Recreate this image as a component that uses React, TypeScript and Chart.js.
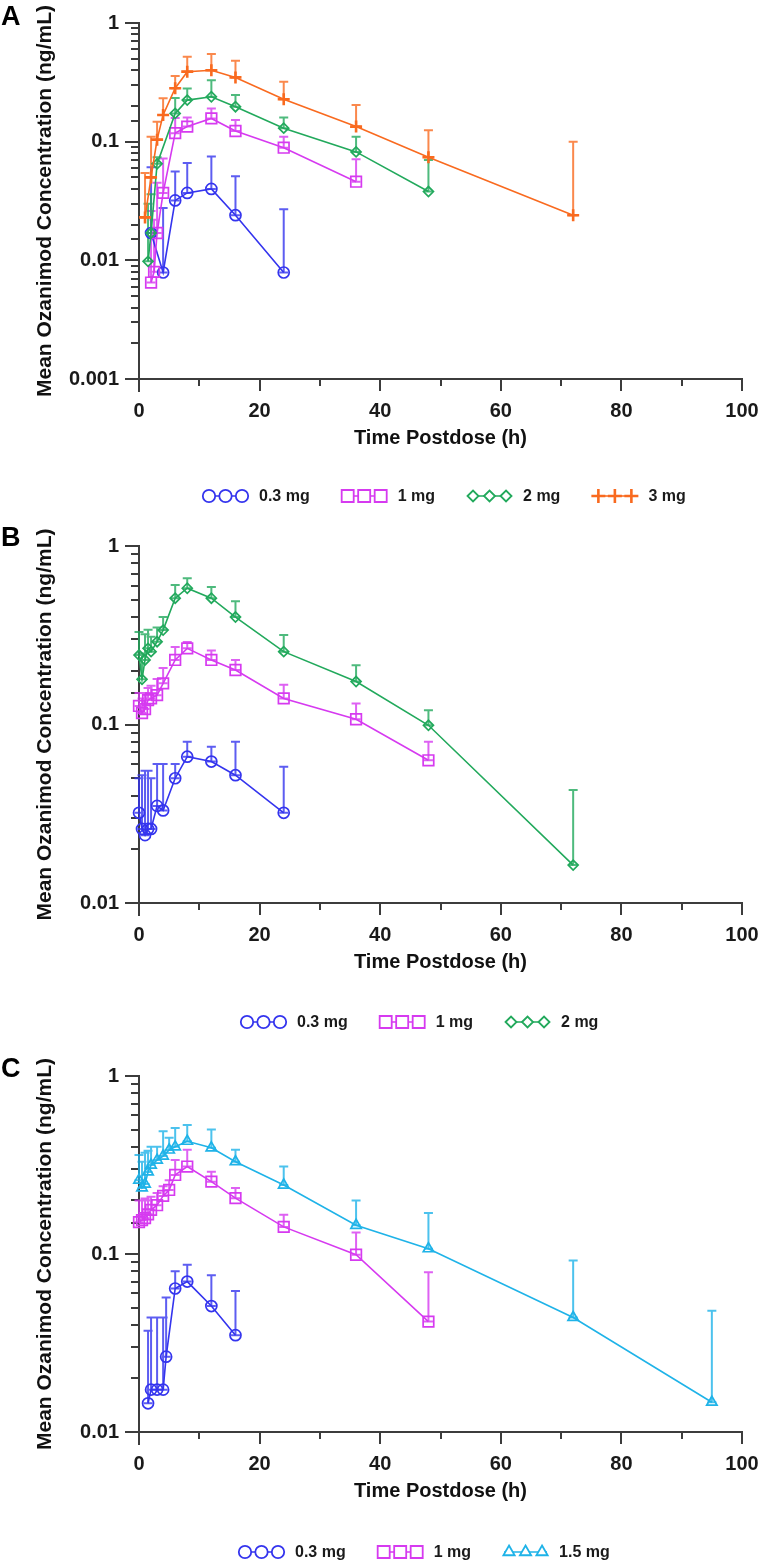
import React, { useEffect, useRef } from 'react';
import { Chart, registerables } from 'chart.js';
import { drawPoint } from 'chart.js/helpers';

Chart.register(...registerables);

const FONT = '"Liberation Sans", Arial, Helvetica, sans-serif';

// ---------------- labels & colours ----------------
const Y_TITLE = 'Mean Ozanimod Concentration (ng/mL)';
const X_TITLE = 'Time Postdose (h)';
const X_TICKS = [0, 20, 40, 60, 80, 100];

const BLUE = '#3434ee';
const MAGENTA = '#d63af0';
const GREEN = '#22a95c';
const ORANGE = '#f96a1f';
const CYAN = '#1fb3e8';

// ---------------- Panel A (single dose) ----------------
const A_T_03 = [2, 4, 6, 8, 12, 16, 24];
const A_M_03 = [0.017, 0.0079, 0.032, 0.037, 0.04, 0.024, 0.0079];
const A_U_03 = [0.061, 0.0276, 0.056, 0.066, 0.075, 0.051, 0.027];

const A_T_1 = [2, 2.5, 3, 4, 6, 8, 12, 16, 24, 36];
const A_M_1 = [0.0065, 0.008, 0.017, 0.037, 0.118, 0.134, 0.157, 0.123, 0.089, 0.046];
const A_U_1 = [0.026, 0.022, 0.045, 0.072, 0.158, 0.16, 0.19, 0.152, 0.11, 0.071];

const A_T_2 = [1.5, 2, 3, 6, 8, 12, 16, 24, 36, 48];
const A_M_2 = [0.0098, 0.017, 0.065, 0.173, 0.224, 0.239, 0.197, 0.13, 0.082, 0.038];
const A_U_2 = [0.03, 0.036, 0.074, 0.233, 0.28, 0.33, 0.247, 0.16, 0.11, 0.07];

const A_T_3 = [1, 2, 3, 4, 6, 8, 12, 16, 24, 36, 48, 72];
const A_M_3 = [0.023, 0.05, 0.104, 0.168, 0.282, 0.389, 0.4, 0.348, 0.228, 0.134, 0.074, 0.024];
const A_U_3 = [0.0545, 0.11, 0.147, 0.232, 0.358, 0.52, 0.548, 0.481, 0.32, 0.204, 0.125, 0.1];

// ---------------- Panel B ----------------
const B_T_03 = [0, 0.5, 1, 1.5, 2, 3, 4, 6, 8, 12, 16, 24];
const B_M_03 = [0.032, 0.026, 0.024, 0.026, 0.026, 0.035, 0.033, 0.05, 0.066, 0.062, 0.052, 0.032];
const B_U_03 = [0.05, 0.052, 0.055, 0.055, 0.05, 0.06, 0.06, 0.06, 0.08, 0.075, 0.08, 0.058];

const B_T_1 = [0, 0.5, 1, 1.5, 2, 3, 4, 6, 8, 12, 16, 24, 36, 48];
const B_M_1 = [0.127, 0.116, 0.122, 0.137, 0.14, 0.146, 0.17, 0.23, 0.267, 0.23, 0.202, 0.14, 0.107, 0.063];
const B_U_1 = [0.15, 0.14, 0.15, 0.16, 0.165, 0.18, 0.207, 0.272, 0.29, 0.26, 0.23, 0.167, 0.131, 0.08];

const B_T_2 = [0, 0.5, 1, 1.5, 2, 3, 4, 6, 8, 12, 16, 24, 36, 48, 72];
const B_M_2 = [0.245, 0.179, 0.23, 0.267, 0.256, 0.291, 0.338, 0.51, 0.58, 0.51, 0.4, 0.256, 0.174, 0.099, 0.0163];
const B_U_2 = [0.33, 0.25, 0.32, 0.34, 0.31, 0.35, 0.4, 0.605, 0.66, 0.59, 0.49, 0.317, 0.215, 0.12, 0.043];

// ---------------- Panel C ----------------
const C_T_03 = [1.5, 2, 3, 4, 4.5, 6, 8, 12, 16];
const C_M_03 = [0.0145, 0.0173, 0.0173, 0.0173, 0.0265, 0.064, 0.07, 0.051, 0.035];
const C_U_03 = [0.037, 0.044, 0.044, 0.044, 0.057, 0.08, 0.087, 0.076, 0.062];

const C_T_1 = [0, 0.5, 1, 1.5, 2, 3, 4, 5, 6, 8, 12, 16, 24, 36, 48];
const C_M_1 = [0.151, 0.155, 0.159, 0.167, 0.177, 0.188, 0.212, 0.229, 0.278, 0.31, 0.255, 0.206, 0.142, 0.099, 0.0417];
const C_U_1 = [0.2, 0.2, 0.205, 0.2, 0.21, 0.22, 0.24, 0.26, 0.337, 0.385, 0.29, 0.235, 0.166, 0.132, 0.079];

const C_T_15 = [0, 0.5, 1, 1.5, 2, 3, 4, 5, 6, 8, 12, 16, 24, 36, 48, 72, 95];
const C_M_15 = [0.26, 0.235, 0.247, 0.289, 0.316, 0.337, 0.355, 0.384, 0.4, 0.43, 0.395, 0.33, 0.244, 0.145, 0.107, 0.044, 0.0147];
const C_U_15 = [0.36, 0.33, 0.37, 0.38, 0.4, 0.4, 0.49, 0.45, 0.51, 0.53, 0.5, 0.385, 0.31, 0.2, 0.17, 0.092, 0.048];

// ---------------- helpers ----------------
type Series = {
  label: string;
  color: string;
  style: string;
  radius: number;
  legendRadius: number;
  t: number[];
  m: number[];
  u: number[];
};

function withAlpha(hex: string, a: number) {
  const n = parseInt(hex.slice(1), 16);
  return `rgba(${(n >> 16) & 255},${(n >> 8) & 255},${n & 255},${a})`;
}

function makeDataset(s: Series, i: number, n: number) {
  return {
    label: s.label,
    data: s.t.map((x, k) => ({ x, y: s.m[k] })),
    borderColor: s.color,
    backgroundColor: 'rgba(0,0,0,0)',
    pointBackgroundColor: 'rgba(255,255,255,0)',
    pointBorderColor: s.color,
    pointStyle: s.style,
    pointRadius: s.radius,
    pointBorderWidth: s.style === 'cross' ? 2.6 : 1.7,
    borderWidth: 1.6,
    tension: 0,
    clip: false,
    order: n - i,
    errUpper: s.u,
    legendRadius: s.legendRadius,
  } as any;
}

const decorPlugin = {
  id: 'decor',
  beforeDatasetsDraw(chart: any) {
    const { ctx, chartArea } = chart;
    const xs = chart.scales.x;
    const ys = chart.scales.y;
    const { left, right, top, bottom } = chartArea;
    ctx.save();
    // axes
    ctx.strokeStyle = '#3c3c3c';
    ctx.lineWidth = 2;
    ctx.beginPath();
    ctx.moveTo(left, top - 1);
    ctx.lineTo(left, bottom + 13);
    ctx.moveTo(left - 14, bottom);
    ctx.lineTo(right + 1, bottom);
    // y ticks (decades long, 2..9 short)
    ys.ticks.forEach((tk: any) => {
      const v = tk.value;
      const lg = Math.log10(v);
      const major = Math.abs(lg - Math.round(lg)) < 1e-6;
      const py = Math.round(ys.getPixelForValue(v));
      ctx.moveTo(left - (major ? 14 : 8), py);
      ctx.lineTo(left, py);
    });
    // x ticks
    xs.ticks.forEach((tk: any) => {
      const v = tk.value;
      const major = v % 20 === 0;
      const px = Math.round(xs.getPixelForValue(v));
      ctx.moveTo(px, bottom);
      ctx.lineTo(px, bottom + (major ? 12 : 7));
    });
    ctx.stroke();

    // error bars (mean + SD), with a cap at the top and one at the mean
    chart.data.datasets.forEach((ds: any) => {
      const up: number[] = ds.errUpper || [];
      ctx.strokeStyle = withAlpha(ds.borderColor, 0.8);
      ctx.lineWidth = 2;
      ctx.beginPath();
      ds.data.forEach((p: any, k: number) => {
        const px = xs.getPixelForValue(p.x);
        const y0 = ys.getPixelForValue(p.y);
        const y1 = ys.getPixelForValue(up[k]);
        ctx.moveTo(px, y0);
        ctx.lineTo(px, y1);
        ctx.moveTo(px - 4.5, y1);
        ctx.lineTo(px + 4.5, y1);
        ctx.moveTo(px - 4.5, y0);
        ctx.lineTo(px + 4.5, y0);
      });
      ctx.stroke();
    });
    ctx.restore();
  },
  afterDraw(chart: any, _args: any, opts: any) {
    const { ctx } = chart;
    ctx.save();
    // panel letter
    ctx.fillStyle = '#000';
    ctx.font = `bold 27px ${FONT}`;
    ctx.textAlign = 'left';
    ctx.textBaseline = 'alphabetic';
    ctx.fillText(opts.letter, 1, opts.letterY);

    // legend
    let x = opts.legendX;
    const y = opts.legendY;
    ctx.font = `bold 16px ${FONT}`;
    ctx.textBaseline = 'middle';
    chart.data.datasets.forEach((ds: any) => {
      const symW = 47;
      const r = ds.legendRadius;
      ctx.strokeStyle = ds.borderColor;
      ctx.lineWidth = 1.5;
      ctx.beginPath();
      ctx.moveTo(x + 2, y);
      ctx.lineTo(x + symW - 2, y);
      ctx.stroke();
      const pts = [x + symW / 2 - 16.5, x + symW / 2, x + symW / 2 + 16.5];
      ctx.fillStyle = '#ffffff';
      ctx.lineWidth = ds.pointStyle === 'cross' ? 2.6 : 1.8;
      pts.forEach((px) => {
        drawPoint(ctx, { pointStyle: ds.pointStyle, rotation: 0, radius: r, borderWidth: ctx.lineWidth } as any, px, y);
      });
      ctx.fillStyle = '#1a1a1a';
      const tx = x + symW + 10;
      ctx.fillText(ds.label, tx, y + 1);
      x = tx + ctx.measureText(ds.label).width + 31;
    });
    ctx.restore();
  },
};

function yTickLabel(value: any) {
  const v = Number(value);
  const lg = Math.log10(v);
  if (Math.abs(lg - Math.round(lg)) < 1e-6) {
    return String(Number(v.toPrecision(1)));
  }
  return '';
}

type PanelProps = {
  top: number;
  height: number;
  padTop: number;
  padBottom: number;
  yMin: number;
  series: Series[];
  letter: string;
  letterY: number;
  legendX: number;
  legendY: number;
};

function Panel(p: PanelProps) {
  const ref = useRef<HTMLCanvasElement | null>(null);
  useEffect(() => {
    if (!ref.current) return;
    const n = p.series.length;
    const chart = new Chart(ref.current, {
      type: 'line',
      data: { datasets: p.series.map((s, i) => makeDataset(s, i, n)) },
      options: {
        responsive: false,
        animation: false,
        devicePixelRatio: 1,
        events: [],
        layout: { padding: { top: p.padTop, bottom: p.padBottom, left: 0, right: 18 } },
        plugins: {
          legend: { display: false },
          tooltip: { enabled: false },
          decor: { letter: p.letter, letterY: p.letterY, legendX: p.legendX, legendY: p.legendY },
        } as any,
        scales: {
          x: {
            type: 'linear',
            min: 0,
            max: 100,
            grid: { display: false, drawTicks: false },
            border: { display: false },
            ticks: {
              stepSize: 10,
              autoSkip: false,
              maxRotation: 0,
              padding: 20,
              color: '#1a1a1a',
              font: { family: FONT, size: 20, weight: 'bold' },
              callback: (v: any) => (X_TICKS.includes(Number(v)) ? String(v) : ''),
            },
            title: {
              display: true,
              text: X_TITLE,
              color: '#111',
              font: { family: FONT, size: 20, weight: 'bold' },
              padding: { top: 0, bottom: 4 },
            },
            afterFit: (s: any) => {
              s.height = 75;
              s.paddingLeft = 0;
              s.paddingRight = 0;
            },
          },
          y: {
            type: 'logarithmic',
            min: p.yMin,
            max: 1,
            grid: { display: false, drawTicks: false },
            border: { display: false },
            ticks: {
              autoSkip: false,
              padding: 20,
              color: '#1a1a1a',
              font: { family: FONT, size: 20, weight: 'bold' },
              callback: yTickLabel,
            },
            title: {
              display: true,
              text: Y_TITLE,
              color: '#111',
              font: { family: FONT, size: 21, weight: 'bold' },
              padding: { top: 33, bottom: 0 },
            },
            afterFit: (s: any) => {
              s.width = 139;
              s.paddingTop = 0;
              s.paddingBottom = 0;
            },
          },
        },
      } as any,
      plugins: [decorPlugin as any],
    });
    return () => chart.destroy();
  }, []);
  return (
    <canvas
      ref={ref}
      width={760}
      height={p.height}
      style={{ position: 'absolute', left: 0, top: p.top, width: 760, height: p.height, display: 'block' }}
    />
  );
}

const SERIES_A: Series[] = [
  { label: '0.3 mg', color: BLUE, style: 'circle', radius: 5.5, legendRadius: 6.2, t: A_T_03, m: A_M_03, u: A_U_03 },
  { label: '1 mg', color: MAGENTA, style: 'rect', radius: 7.5, legendRadius: 8.5, t: A_T_1, m: A_M_1, u: A_U_1 },
  { label: '2 mg', color: GREEN, style: 'rectRot', radius: 5, legendRadius: 5.5, t: A_T_2, m: A_M_2, u: A_U_2 },
  { label: '3 mg', color: ORANGE, style: 'cross', radius: 6, legendRadius: 7, t: A_T_3, m: A_M_3, u: A_U_3 },
];

const SERIES_B: Series[] = [
  { label: '0.3 mg', color: BLUE, style: 'circle', radius: 5.5, legendRadius: 6.2, t: B_T_03, m: B_M_03, u: B_U_03 },
  { label: '1 mg', color: MAGENTA, style: 'rect', radius: 7.5, legendRadius: 8.5, t: B_T_1, m: B_M_1, u: B_U_1 },
  { label: '2 mg', color: GREEN, style: 'rectRot', radius: 5, legendRadius: 5.5, t: B_T_2, m: B_M_2, u: B_U_2 },
];

const SERIES_C: Series[] = [
  { label: '0.3 mg', color: BLUE, style: 'circle', radius: 5.5, legendRadius: 6.2, t: C_T_03, m: C_M_03, u: C_U_03 },
  { label: '1 mg', color: MAGENTA, style: 'rect', radius: 7.5, legendRadius: 8.5, t: C_T_1, m: C_M_1, u: C_U_1 },
  { label: '1.5 mg', color: CYAN, style: 'triangle', radius: 6, legendRadius: 6.5, t: C_T_15, m: C_M_15, u: C_U_15 },
];

export default function App() {
  return (
    <div style={{ position: 'absolute', left: 0, top: 0, width: 760, height: 1560, background: '#fff', overflow: 'hidden' }}>
      <Panel top={0} height={515} padTop={23} padBottom={61} yMin={0.001} series={SERIES_A} letter="A" letterY={25} legendX={202} legendY={496} />
      <Panel top={515} height={525} padTop={31} padBottom={62} yMin={0.01} series={SERIES_B} letter="B" letterY={31} legendX={240} legendY={507} />
      <Panel top={1040} height={520} padTop={36} padBottom={53} yMin={0.01} series={SERIES_C} letter="C" letterY={37} legendX={238} legendY={512} />
    </div>
  );
}
